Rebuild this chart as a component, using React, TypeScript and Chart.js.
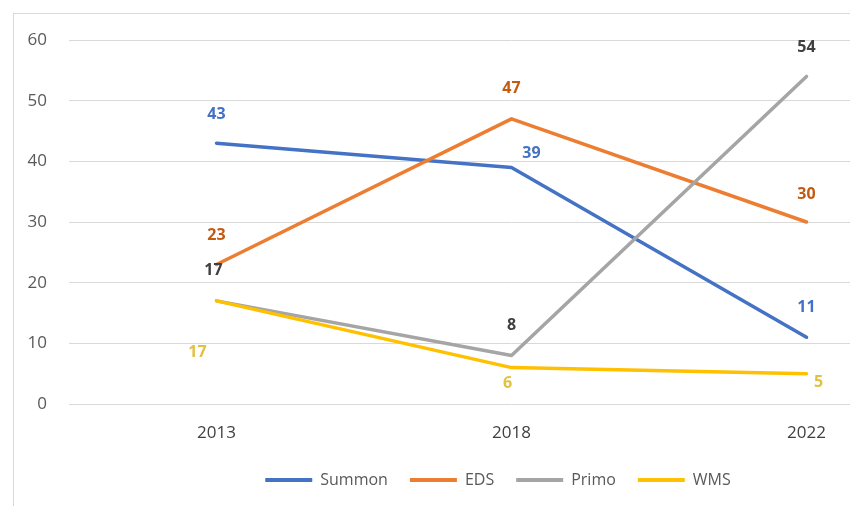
import React, { useEffect, useRef } from 'react';
import { Chart, registerables } from 'chart.js';

Chart.register(...registerables);

const years = ['2013', '2018', '2022'];
const summonValues = [43, 39, 11];
const edsValues = [23, 47, 30];
const primoValues = [17, 8, 54];
const wmsValues = [17, 6, 5];
const seriesNames = ['Summon', 'EDS', 'Primo', 'WMS'];
const yMin = 0;
const yMax = 60;
const yStep = 10;

const lineColors = ['#4472C4', '#ED7D31', '#A5A5A5', '#FFC000'];
const labelColors = ['#4472C4', '#C55A11', '#404040', '#E3C03F'];
// label placement offsets (dx, dy in px) relative to each point
const labelOffsets = [
  [[0, -29], [20, -14], [0, -30]],
  [[0, -29], [0, -30], [0, -28]],
  [[-3, -30], [0, -30], [0, -29]],
  [[-19, 52], [-4, 16], [12, 9]],
];

const FONT = '"Open Sans", sans-serif';

const valueLabels = {
  id: 'valueLabels',
  afterDatasetsDraw(chart: any) {
    const ctx = chart.ctx;
    ctx.save();
    ctx.font = `bold 16px ${FONT}`;
    ctx.textAlign = 'center';
    ctx.textBaseline = 'middle';
    chart.data.datasets.forEach((ds: any, i: number) => {
      const meta = chart.getDatasetMeta(i);
      meta.data.forEach((pt: any, j: number) => {
        const [dx, dy] = labelOffsets[i][j];
        ctx.fillStyle = labelColors[i];
        ctx.fillText(String(ds.data[j]), pt.x + dx, pt.y + dy);
      });
    });
    ctx.restore();
  },
};

export default function App() {
  const canvasRef = useRef<HTMLCanvasElement | null>(null);

  useEffect(() => {
    if (!canvasRef.current) return;
    Chart.defaults.font.family = FONT;
    const allSeries = [summonValues, edsValues, primoValues, wmsValues];
    const chart = new Chart(canvasRef.current, {
      type: 'line',
      data: {
        labels: years,
        datasets: allSeries.map((vals, i) => ({
          label: seriesNames[i],
          data: vals,
          borderColor: lineColors[i],
          backgroundColor: lineColors[i],
          borderWidth: 3.5,
          pointRadius: 0,
          tension: 0,
          borderCapStyle: 'round' as const,
          borderJoinStyle: 'round' as const,
          order: 4 - i,
        })),
      },
      options: {
        animation: false,
        responsive: true,
        maintainAspectRatio: false,
        layout: { padding: { top: 26, bottom: 8, left: 0, right: 0 } },
        scales: {
          x: {
            offset: true,
            grid: { display: false, drawTicks: false },
            border: { display: false },
            ticks: { color: '#404040', font: { size: 17, family: FONT }, padding: 19 },
            afterFit: (s: any) => { s.height = 46; },
          },
          y: {
            min: yMin,
            max: yMax,
            grid: { color: '#D9D9D9', lineWidth: 1, drawTicks: true, tickLength: 10, tickColor: 'rgba(0,0,0,0)' },
            border: { display: false },
            ticks: { stepSize: yStep, color: '#595959', font: { size: 17, family: FONT }, padding: 12 },
            afterFit: (s: any) => { s.width = 55; },
          },
          yR: {
            position: 'right',
            display: true,
            grid: { display: false, drawTicks: false },
            border: { display: false },
            ticks: { display: false },
            afterFit: (s: any) => { s.width = 28; },
          },
        },
        plugins: {
          tooltip: { enabled: false },
          legend: {
            position: 'bottom',
            labels: {
              boxWidth: 47,
              boxHeight: 4,
              padding: 22,
              color: '#595959',
              font: { size: 16, family: FONT },
              generateLabels: (c: any) =>
                c.data.datasets.map((ds: any, i: number) => ({
                  text: ds.label,
                  fillStyle: lineColors[i],
                  strokeStyle: lineColors[i],
                  lineWidth: 0,
                  hidden: false,
                  datasetIndex: i,
                  fontColor: '#595959',
                })),
            },
          },
        },
      },
      plugins: [valueLabels],
    } as any);
    return () => chart.destroy();
  }, []);

  return (
    <div
      style={{
        position: 'fixed',
        left: 13,
        top: 13,
        width: 837,
        height: 493,
        overflow: 'hidden',
        borderLeft: '1px solid #D9D9D9',
        borderTop: '1px solid #D9D9D9',
        boxSizing: 'border-box',
        background: '#fff',
      }}
    >
      <div style={{ position: 'absolute', left: 0, top: 0, width: 968, height: 492 }}>
        <canvas ref={canvasRef} />
      </div>
    </div>
  );
}
